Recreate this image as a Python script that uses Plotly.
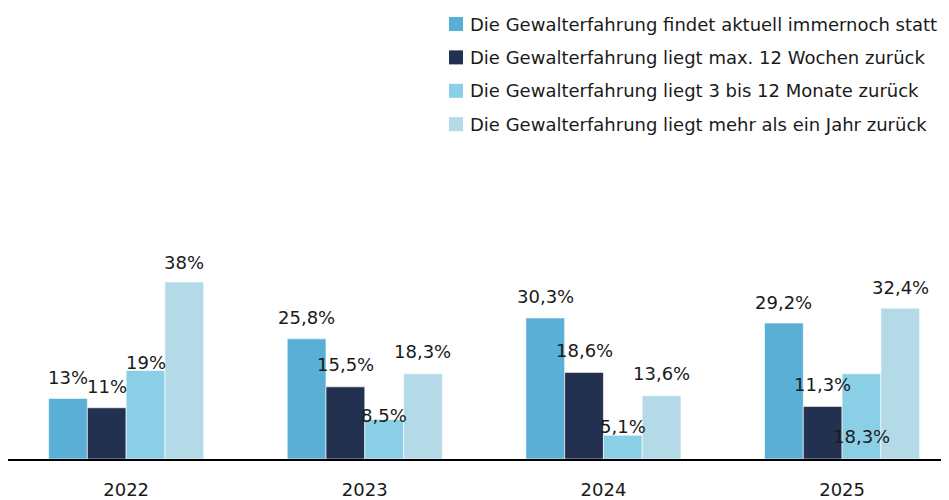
import plotly.graph_objects as go

years = ["2022", "2023", "2024", "2025"]
series_names = [
    "Die Gewalterfahrung findet aktuell immernoch statt",
    "Die Gewalterfahrung liegt max. 12 Wochen zurück",
    "Die Gewalterfahrung liegt 3 bis 12 Monate zurück",
    "Die Gewalterfahrung liegt mehr als ein Jahr zurück",
]
aktuell = [13, 25.8, 30.3, 29.2]
max12wochen = [11, 15.5, 18.6, 11.3]
monate3bis12 = [19, 8.5, 5.1, 18.3]
mehrAlsJahr = [38, 18.3, 13.6, 32.4]
labels_aktuell = ["13%", "25,8%", "30,3%", "29,2%"]
labels_max12 = ["11%", "15,5%", "18,6%", "11,3%"]
labels_3bis12 = ["19%", "8,5%", "5,1%", "18,3%"]
labels_mehr = ["38%", "18,3%", "13,6%", "32,4%"]

series_values = [aktuell, max12wochen, monate3bis12, mehrAlsJahr]
series_labels = [labels_aktuell, labels_max12, labels_3bis12, labels_mehr]
colors = ["#59AFD6", "#233150", "#8BCFE6", "#B4DAE8"]
# label vertical offsets in px (style), relative to bar top
label_shift = [
    [21, 21, 21, 21],
    [21, 22, 22, 22],
    [8, 4, 9, -63],
    [20, 22, 22, 21],
]

FONT = "DejaVu Sans"
FS = 18
TXT = "#1a1a1a"
W, H = 941, 492
M_L, M_R, M_T, M_B = 0, 0, 92, 41
PLOT_W = W - M_L - M_R
PLOT_H = H - M_T - M_B

bargap = 0.35
n = len(series_values)
bar_w = (1 - bargap) / n


def px_x(fx):
    return (fx - M_L) / PLOT_W


def px_y(fy):
    return (H - M_B - fy) / PLOT_H


fig = go.Figure()
for k in range(n):
    fig.add_trace(go.Bar(
        x=years, y=series_values[k], name=series_names[k], showlegend=False,
        marker=dict(color=colors[k], line=dict(color="rgba(255,255,255,0.6)", width=1)),
    ))
    for i in range(len(years)):
        fig.add_annotation(
            x=i + (k - (n - 1) / 2) * bar_w, y=series_values[k][i],
            text=series_labels[k][i], showarrow=False,
            yshift=label_shift[k][i], xanchor="center", yanchor="middle",
            font=dict(family=FONT, size=FS, color=TXT),
        )

# legend (drawn manually for exact symbol/text spacing)
leg_sym_x0, leg_sym_size, leg_text_x = 441, 14, 460
leg_y0, leg_dy = 16, 33.4
for k in range(n):
    cy = leg_y0 + k * leg_dy
    fig.add_shape(
        type="rect", xref="paper", yref="paper",
        x0=px_x(leg_sym_x0), x1=px_x(leg_sym_x0 + leg_sym_size),
        y0=px_y(cy + leg_sym_size / 2), y1=px_y(cy - leg_sym_size / 2),
        fillcolor=colors[k], line=dict(width=0),
    )
    fig.add_annotation(
        xref="paper", yref="paper", x=px_x(leg_text_x), y=px_y(cy),
        text=series_names[k], showarrow=False, xanchor="left", yanchor="middle",
        font=dict(family=FONT, size=FS, color=TXT),
    )

fig.update_layout(
    width=W, height=H,
    margin=dict(l=M_L, r=M_R, t=M_T, b=M_B, autoexpand=False),
    paper_bgcolor="white", plot_bgcolor="white",
    barmode="group", bargap=bargap, bargroupgap=0,
    font=dict(family=FONT, size=FS, color=TXT),
    showlegend=False,
)
fig.update_xaxes(
    type="category", range=[-0.495, 3.448], showline=True, linecolor="#000000", linewidth=2,
    ticks="outside", ticklen=0, ticklabelstandoff=13, showgrid=False, automargin=False,
    tickfont=dict(family=FONT, size=FS, color=TXT),
)
fig.update_yaxes(range=[0, 77.1], visible=False, showgrid=False, zeroline=False, automargin=False)

fig.write_html("out.html")
